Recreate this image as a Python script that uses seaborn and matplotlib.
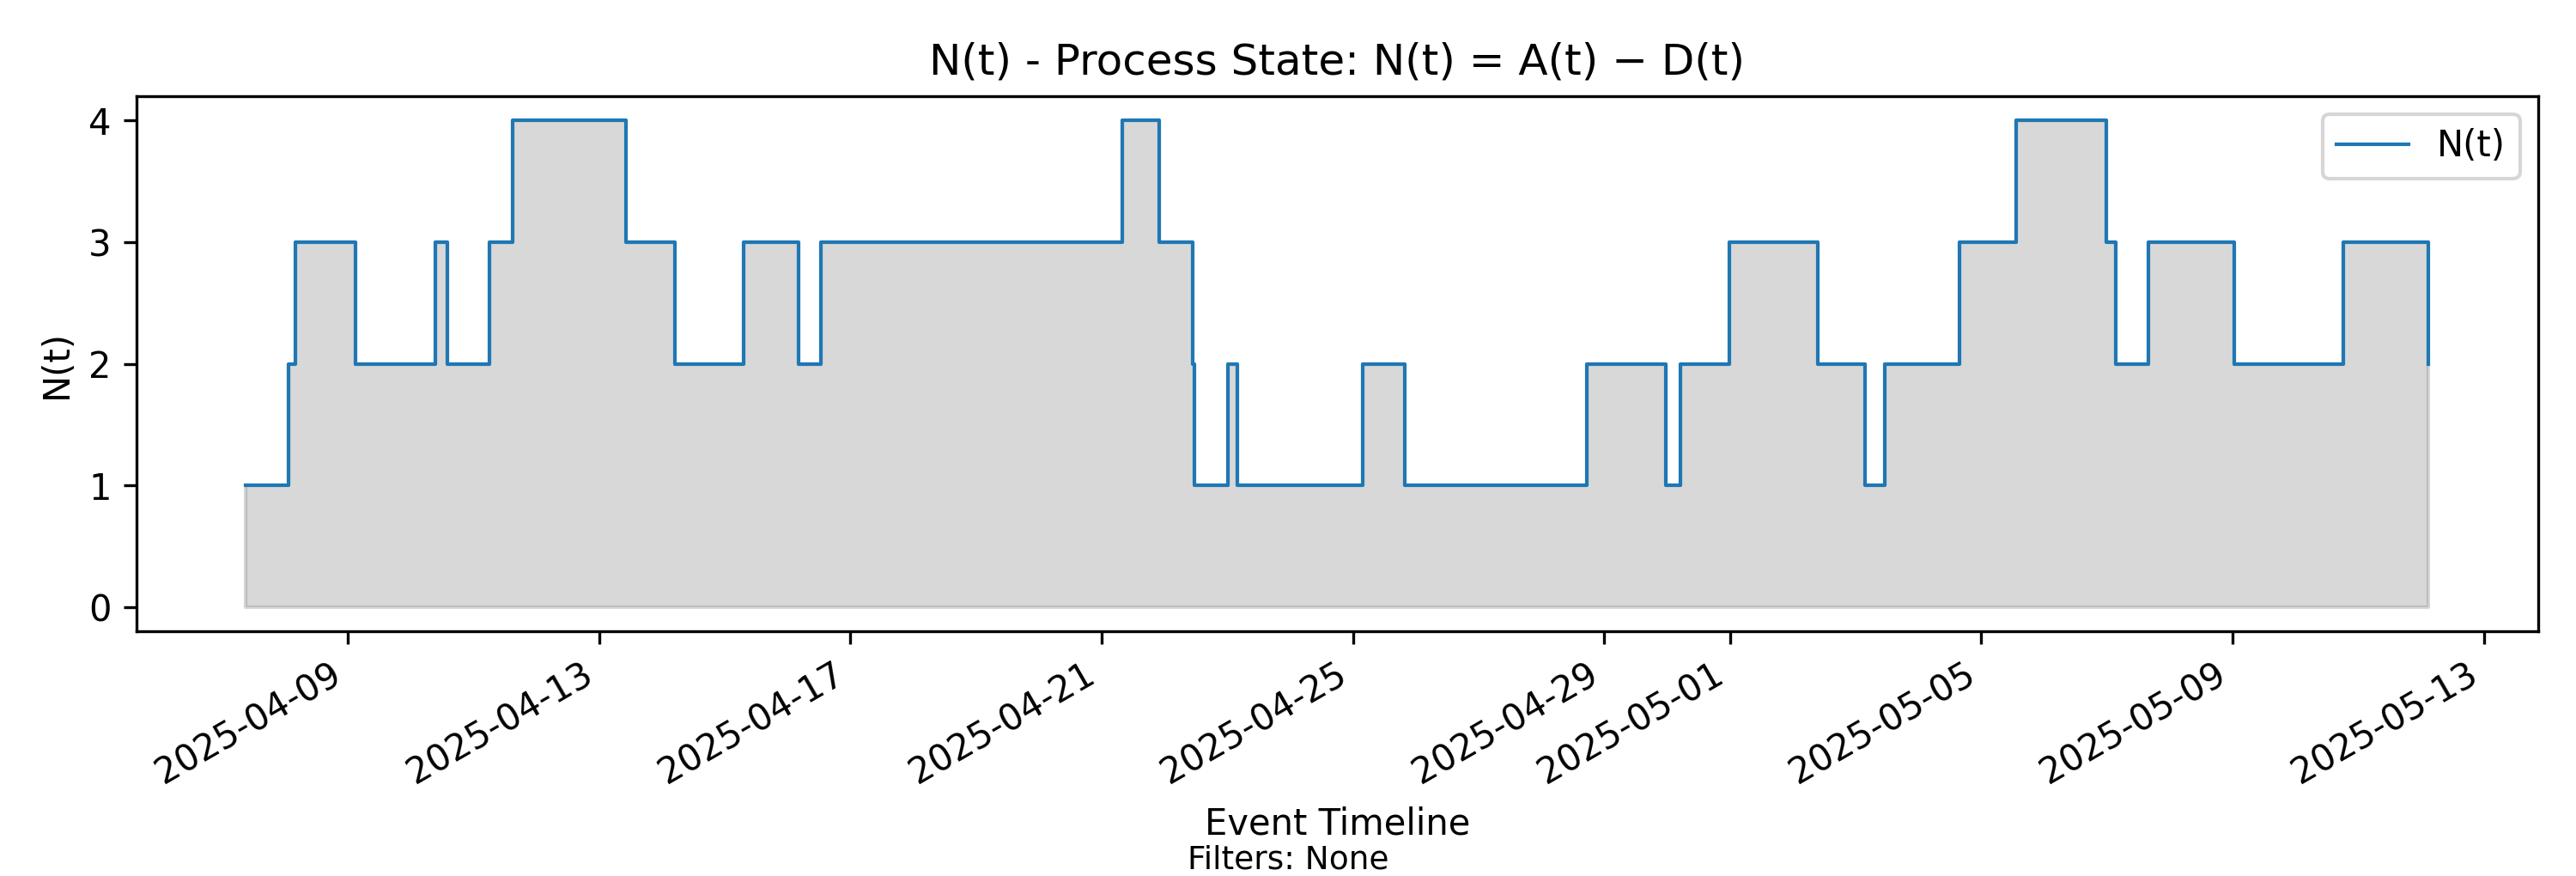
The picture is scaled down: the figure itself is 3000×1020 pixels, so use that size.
import matplotlib
matplotlib.use("Agg")
import matplotlib.pyplot as plt
import matplotlib.dates as mdates
import seaborn as sns
import pandas as pd
import numpy as np

# Event times (state changes) and resulting N(t) values
event_times = [
    "2025-04-07 09:03", "2025-04-08 01:32", "2025-04-08 03:53", "2025-04-09 03:07",
    "2025-04-10 09:23", "2025-04-10 14:15", "2025-04-11 06:07", "2025-04-11 14:53",
    "2025-04-13 10:13", "2025-04-14 04:53", "2025-04-15 07:24", "2025-04-16 04:12",
    "2025-04-16 12:39", "2025-04-21 07:49", "2025-04-21 22:06", "2025-04-22 10:58",
    "2025-04-22 11:27", "2025-04-23 00:09", "2025-04-23 03:55", "2025-04-25 03:39",
    "2025-04-25 19:52", "2025-04-28 17:32", "2025-04-29 23:29", "2025-04-30 04:59",
    "2025-04-30 23:40", "2025-05-02 09:43", "2025-05-03 03:36", "2025-05-03 11:17",
    "2025-05-04 15:40", "2025-05-05 13:16", "2025-05-06 23:57", "2025-05-07 03:23",
    "2025-05-07 15:47", "2025-05-09 00:36", "2025-05-10 18:19", "2025-05-12 02:59",
]
n_values = [
    1, 2, 3, 2,
    3, 2, 3, 4,
    3, 2, 3, 2,
    3, 4, 3, 2,
    1, 2, 1, 2,
    1, 2, 1, 2,
    3, 2, 1, 2,
    3, 4, 3, 2,
    3, 2, 3, 2,
]

title_text = "N(t) - Process State: N(t) = A(t) \u2212 D(t)"
x_label = "Event Timeline"
y_label = "N(t)"
series_label = "N(t)"
filters_text = "Filters: None"

df = pd.DataFrame({"time": pd.to_datetime(event_times), "N": n_values})

fig = plt.figure(figsize=(10, 3.4), dpi=300)
ax = fig.add_axes([0.053, 0.2794, 0.9322, 0.6108])

sns.lineplot(data=df, x="time", y="N", drawstyle="steps-post",
             linewidth=1, color="#1f77b4", label=series_label, ax=ax,
             estimator=None, sort=False)
ax.fill_between(df["time"], df["N"], step="post", color="gray", alpha=0.3)

ax.set_title(title_text, fontsize=12)
ax.set_xlabel(x_label, fontsize=10)
ax.set_ylabel(y_label, fontsize=10)
ax.legend(loc="upper right")
ax.margins(x=0.05, y=0.05)

ax.xaxis.set_major_locator(mdates.AutoDateLocator())
ax.xaxis.set_major_formatter(mdates.DateFormatter("%Y-%m-%d"))
plt.setp(ax.get_xticklabels(), rotation=30, ha="right")

fig.text(0.5, 0.018, filters_text, ha="center", va="center", fontsize=9)

fig.savefig("out.png", dpi=300)
